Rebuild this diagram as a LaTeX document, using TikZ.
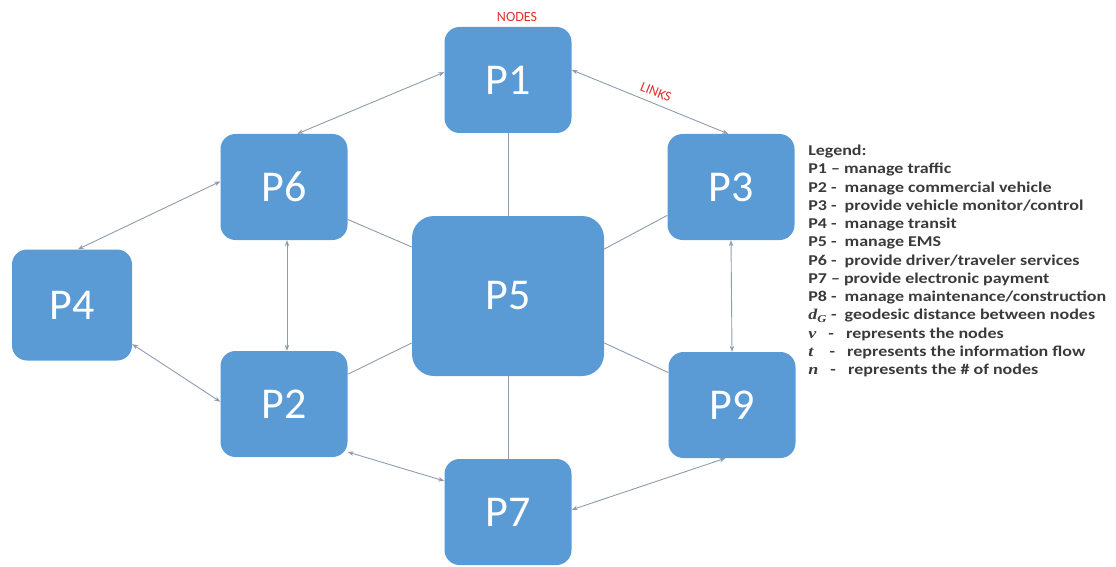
\documentclass[tikz,border=0pt]{standalone}
\usepackage{fontspec}
\setmainfont{Carlito}
\newfontfamily\mathlike{Liberation Serif}
\usetikzlibrary{arrows.meta}
\definecolor{boxblue}{HTML}{5B9BD5}
\definecolor{linkgray}{HTML}{8E9CB0}
\definecolor{labelred}{HTML}{E3302A}
\definecolor{legendtext}{HTML}{3A3A3A}
\tikzset{
  pbox/.style={draw=none, fill=boxblue, rounded corners=15pt, minimum width=127pt, minimum height=106pt, text=white, font=\fontsize{44}{44}\selectfont, inner sep=0pt},
  bigbox/.style={pbox, minimum width=192pt, minimum height=160pt, rounded corners=22pt},
  smallbox/.style={pbox, minimum width=120pt, minimum height=111pt},
  plainlink/.style={draw=linkgray, line width=0.9pt},
  arrowlink/.style={draw=linkgray, line width=0.9pt, {Stealth[length=6pt,width=4.5pt]}-{Stealth[length=6pt,width=4.5pt]}},
  redlabel/.style={text=labelred, font=\fontsize{14}{14}\selectfont, inner sep=0pt}
}
\newcommand{\mvar}[1]{{\mathlike\bfseries\itshape #1}}
\begin{document}
\begin{tikzpicture}[x=1pt,y=-1pt]
\useasboundingbox (0,0) rectangle (1116,567);
\node[pbox] (P1) at (508,80) {P1};
\node[pbox] (P6) at (284,187) {P6};
\node[pbox] (P3) at (731,187) {P3};
\node[smallbox] (P4) at (72,305) {P4};
\node[bigbox] (P5) at (508,296) {P5};
\node[pbox] (P2) at (284,404) {P2};
\node[pbox] (P9) at (732,405) {P9};
\node[pbox] (P7) at (508,512) {P7};

% plain links to the centre
\draw[plainlink] (P1.south) -- (P5.north);
\draw[plainlink] (P7.north) -- (P5.south);
\draw[plainlink] (P6.-27) -- (P5.153);
\draw[plainlink] (P2.25) -- (P5.206);
\draw[plainlink] (P3.204) -- (P5.26.6);
\draw[plainlink] (P9.153) -- (P5.-26);

% arrow links round the ring
\draw[arrowlink] (P1.173) -- (P6.76);
\draw[arrowlink] (P1.9) -- (P3.93);
\draw[arrowlink] (P6.175) -- (P4.84);
\draw[arrowlink] (P4.-33) -- (P2.178);
\draw[arrowlink] ([xshift=3pt]P6.south) -- ([xshift=3pt]P2.north);
\draw[arrowlink] (P3.south) -- (P9.north);
\draw[arrowlink] (P2.-37) -- (P7.154.5);
\draw[arrowlink] (P9.263) -- (P7.2.5);

\node[redlabel] (nodes) at (517,17) {NODES};
\node[redlabel, rotate=-22] (links) at (656,92) {LINKS};

\node[anchor=north west, align=left, text=legendtext, inner sep=0pt, xscale=1.2,
      font=\bfseries\fontsize{15}{18.25}\selectfont] (legend) at (808,145) {%
Legend:\\
P1 – manage traffic\\
P2 -~ manage commercial vehicle\\
P3 -~ provide vehicle monitor/control\\
P4 -~ manage transit\\
P5 -~ manage EMS\\
P6 -~ provide driver/traveler services\\
P7 – provide electronic payment\\
P8 -~ manage maintenance/construction\\
\mvar{d}\textsubscript{\mvar{G}} -~ geodesic distance between nodes\\
\mvar{v}~~ -~~ represents the nodes\\
\mvar{t}~~~ -~~ represents the information flow\\
\mvar{n}~~ -~~ represents the \# of nodes};
\end{tikzpicture}
\end{document}
